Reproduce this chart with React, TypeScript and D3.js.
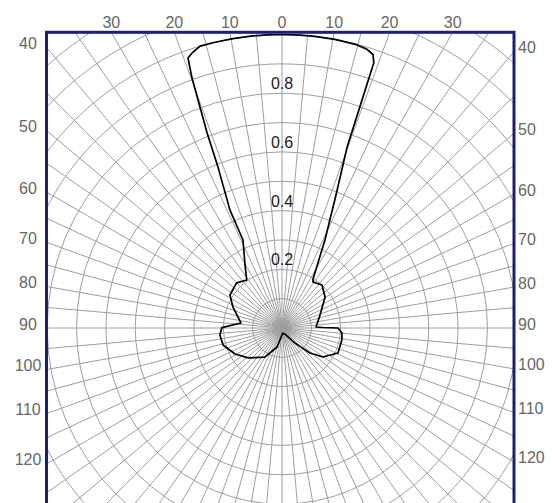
import React from "react";
import * as d3 from "d3";

// ---- data ----
const patternAngles = [
  0, 3.5, 6.4, 10.4, 14.7, 16.9, 18.4, 19.1, 19.8, 22.1, 26.0, 32.3, 34.0, 42.9,
  54.2, 71.1, 88.3, 89.3, 90.0, 94.8, 101.3, 114.1, 125.3, 131.8, 139.1, 153.4,
  172, 194.7, 210.4, 228.6, 241.0, 253.9, 263.6, 270.3, 277.0, 293.2, 302.4,
  314.8, 323.7, 329.6, 336.1, 336.2, 338.3, 339.0, 340.2, 340.8, 341.9, 343.8,
  346.6, 350.4, 354.3, 357.1, 360,
];
const patternValues = [
  1.0, 1.0, 1.0, 1.0, 0.998, 0.993, 0.982, 0.956, 0.655, 0.489, 0.334, 0.198,
  0.189, 0.2, 0.181, 0.137, 0.116, 0.14, 0.191, 0.205, 0.208, 0.209, 0.171,
  0.128, 0.068, 0.023, 0.018, 0.067, 0.115, 0.154, 0.183, 0.209, 0.213, 0.205,
  0.141, 0.182, 0.21, 0.218, 0.203, 0.249, 0.328, 0.439, 0.59, 0.712, 0.905,
  0.974, 0.986, 1.0, 1.0, 1.0, 1.0, 1.0, 1.0,
];

const topTickAngles = [-30, -20, -10, 0, 10, 20, 30];
const topTickLabels = ["30", "20", "10", "0", "10", "20", "30"];
const sideTickAngles = [40, 50, 60, 70, 80, 90, 100, 110, 120];
const sideTickLabels = ["40", "50", "60", "70", "80", "90", "100", "110", "120"];
const ringLabelValues = [0.2, 0.4, 0.6, 0.8];
const ringLabels = ["0.2", "0.4", "0.6", "0.8"];

// ---- layout ----
const W = 552;
const H = 503;
const cx = 282;
const cy = 328;
const frameLeft = 46.5;
const frameRight = 514;
const frameTop = 32.3;
const frameBottom = 640;

const FONT = "'Liberation Sans', Arial, sans-serif";
const GRID = "#9e9e9e";

export default function App() {
  const r = d3.scaleLinear().domain([0, 1]).range([0, 293.5]);
  const rad = (deg: number) => (deg * Math.PI) / 180;

  const rings = d3.range(1, 14).map((i) => i / 10);
  const spokes = d3.range(0, 360, 5);

  const pattern = patternAngles.map((a, i) => ({ a, v: patternValues[i] }));
  const line = d3
    .lineRadial<{ a: number; v: number }>()
    .angle((d) => rad(d.a))
    .radius((d) => r(d.v))
    .curve(d3.curveLinear);

  const spokeLen = r(1.6);
  const dTop = cy - frameTop;
  const dLeft = cx - frameLeft;
  const dRight = frameRight - cx;

  return (
    <svg
      width={W}
      height={H}
      style={{ position: "fixed", left: 0, top: 0, background: "#fff" }}
    >
      <defs>
        <clipPath id="frameClip">
          <rect
            x={frameLeft}
            y={frameTop}
            width={frameRight - frameLeft}
            height={frameBottom - frameTop}
          />
        </clipPath>
      </defs>
      <rect x={0} y={0} width={W} height={H} fill="#fff" />
      <g clipPath="url(#frameClip)">
        <g transform={`translate(${cx},${cy})`}>
          {spokes.map((s) => (
            <line
              key={"s" + s}
              x1={0}
              y1={0}
              x2={spokeLen * Math.sin(rad(s))}
              y2={-spokeLen * Math.cos(rad(s))}
              stroke={GRID}
              strokeWidth={1}
            />
          ))}
          {rings.map((v) => (
            <circle
              key={"r" + v}
              r={r(v)}
              fill="none"
              stroke={GRID}
              strokeWidth={1}
            />
          ))}
          <path
            d={line(pattern) || ""}
            fill="none"
            stroke="#000"
            strokeWidth={1.7}
            strokeLinejoin="round"
          />
          {ringLabelValues.map((v, i) => (
            <text
              key={"rl" + v}
              x={0}
              y={-r(v) - 4}
              textAnchor="middle"
              fontFamily={FONT}
              fontSize={16}
              fill="#1a1a1a"
            >
              {ringLabels[i]}
            </text>
          ))}
        </g>
      </g>
      <rect
        x={frameLeft}
        y={frameTop}
        width={frameRight - frameLeft}
        height={frameBottom - frameTop}
        fill="none"
        stroke="#1e1e78"
        strokeWidth={3}
      />
      {topTickAngles.map((a, i) => (
        <text
          key={"t" + i}
          x={cx + dTop * Math.tan(rad(a))}
          y={28}
          textAnchor="middle"
          fontFamily={FONT}
          fontSize={16}
          fill="#666"
        >
          {topTickLabels[i]}
        </text>
      ))}
      {sideTickAngles.map((a, i) => (
        <text
          key={"l" + i}
          x={28}
          y={cy - dLeft / Math.tan(rad(a)) + 1.5}
          textAnchor="middle"
          fontFamily={FONT}
          fontSize={16}
          fill="#666"
        >
          {sideTickLabels[i]}
        </text>
      ))}
      {sideTickAngles.map((a, i) => (
        <text
          key={"rt" + i}
          x={518}
          y={cy - dRight / Math.tan(rad(a)) + 1.5}
          textAnchor="start"
          fontFamily={FONT}
          fontSize={16}
          fill="#666"
        >
          {sideTickLabels[i]}
        </text>
      ))}
    </svg>
  );
}
